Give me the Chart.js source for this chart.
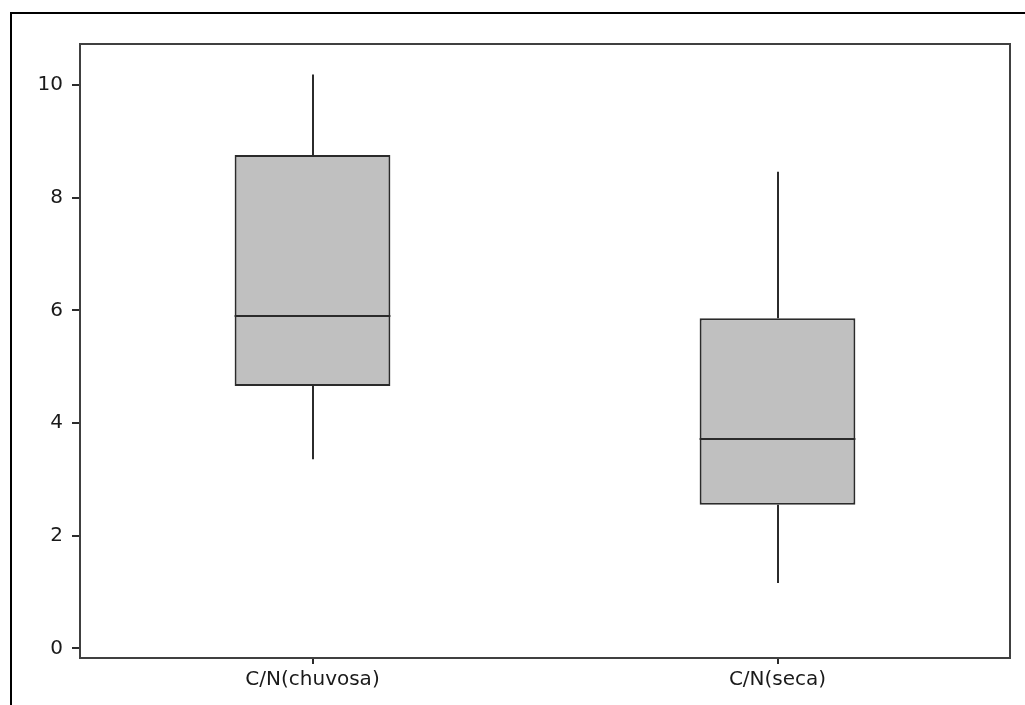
<!DOCTYPE html>
<html>
<head>
<meta charset="utf-8">
<script src="https://cdn.jsdelivr.net/npm/chart.js@4/dist/chart.umd.min.js"></script>
<style>
    html, body { margin: 0; padding: 0; background: #fff; }
    #wrap { position: relative; width: 1025px; height: 705px; overflow: hidden; }
    #chart { position: absolute; left: 0; top: 0; }
    #frame {
        position: absolute; left: 10px; top: 12px; right: -10px; bottom: -10px;
        border-top: 2px solid #000; border-left: 2px solid #000;
        pointer-events: none;
    }
</style>
</head>
<body>
<div id="wrap">
    <canvas id="chart" width="1025" height="705"></canvas>
    <div id="frame"></div>
</div>
<script>
const categories = ['C/N(chuvosa)', 'C/N(seca)'];
const minVals = [3.36, 1.16];
const q1Vals = [4.66, 2.55];
const medianVals = [5.90, 3.72];
const q3Vals = [8.76, 5.86];
const maxVals = [10.19, 8.46];
const yTicks = [0, 2, 4, 6, 8, 10];

const lineColor = '#2b2b2b';

// whiskers, medians and the plot frame
const boxExtras = {
    id: 'boxExtras',
    afterDatasetsDraw(chart) {
        const { ctx, chartArea, scales } = chart;
        const meta = chart.getDatasetMeta(0);
        ctx.save();
        ctx.strokeStyle = lineColor;
        ctx.lineWidth = 2;
        categories.forEach((c, i) => {
            const bar = meta.data[i];
            const x = Math.round(scales.x.getPixelForValue(i));
            const half = bar.width / 2;
            const y = v => scales.y.getPixelForValue(v);
            ctx.beginPath();
            ctx.moveTo(x, y(maxVals[i]));
            ctx.lineTo(x, y(q3Vals[i]));
            ctx.moveTo(x, y(q1Vals[i]));
            ctx.lineTo(x, y(minVals[i]));
            ctx.moveTo(bar.x - half, y(medianVals[i]));
            ctx.lineTo(bar.x + half, y(medianVals[i]));
            ctx.stroke();
        });
        ctx.strokeStyle = '#404040';
        ctx.strokeRect(chartArea.left, chartArea.top, chartArea.right - chartArea.left, chartArea.bottom - chartArea.top);
        ctx.restore();
    }
};

new Chart(document.getElementById('chart'), {
    type: 'bar',
    data: {
        labels: categories,
        datasets: [{
            data: q1Vals.map((q1, i) => [q1, q3Vals[i]]),
            backgroundColor: '#c0c0c0',
            borderColor: lineColor,
            borderWidth: 2,
            borderSkipped: false,
            categoryPercentage: 1,
            barPercentage: 0.335
        }]
    },
    options: {
        responsive: false,
        animation: false,
        layout: { padding: { top: 44, right: 15, left: 0, bottom: 0 } },
        plugins: { legend: { display: false }, tooltip: { enabled: false } },
        scales: {
            x: {
                afterFit: axis => { axis.height = 47; },
                border: { display: false },
                grid: { offset: false, drawOnChartArea: false, drawTicks: true, tickLength: 6, color: lineColor, lineWidth: 2 },
                ticks: { color: '#1a1a1a', padding: 4, font: { family: 'DejaVu Sans', size: 20 } }
            },
            y: {
                min: -0.17,
                max: 10.73,
                afterFit: axis => { axis.width = 80; },
                afterBuildTicks: axis => { axis.ticks = yTicks.map(v => ({ value: v })); },
                border: { display: false },
                grid: { drawOnChartArea: false, drawTicks: true, tickLength: 8, color: lineColor, lineWidth: 2 },
                ticks: { color: '#1a1a1a', padding: 9, font: { family: 'DejaVu Sans', size: 20 } }
            }
        }
    },
    plugins: [boxExtras]
});
</script>
</body>
</html>
